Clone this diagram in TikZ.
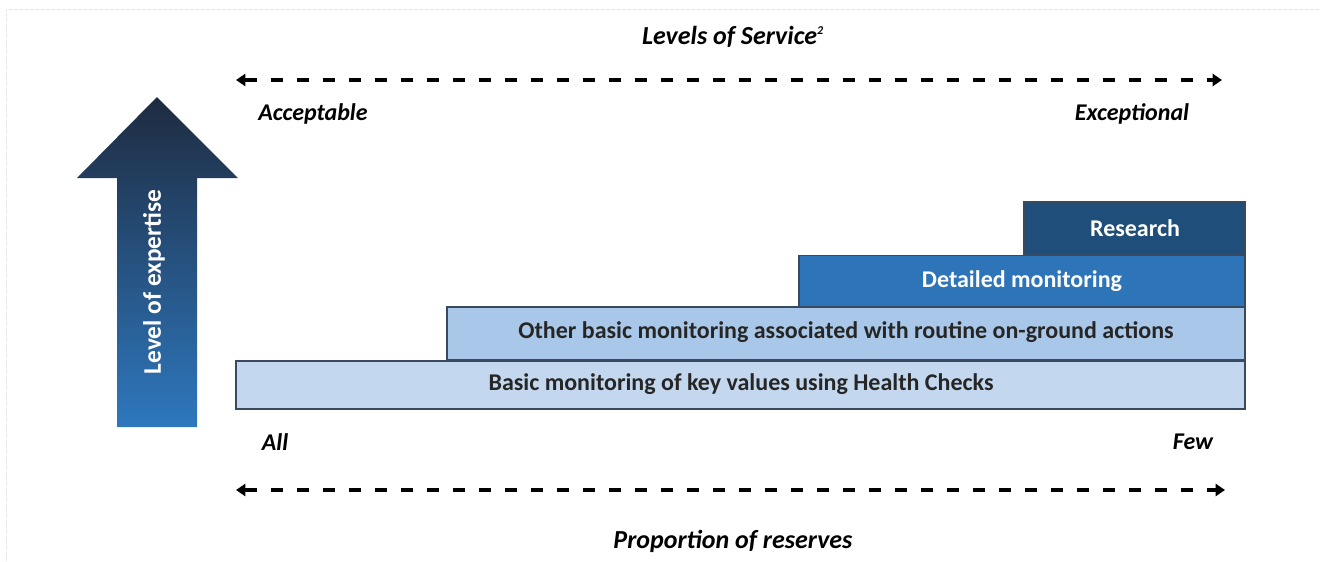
\documentclass[tikz,border=0pt]{standalone}
\usepackage{fontspec}
\setmainfont{Carlito}
\usetikzlibrary{arrows.meta,shapes.arrows}
\definecolor{lvlone}{HTML}{C3D7EE}
\definecolor{lvltwo}{HTML}{A9C7E8}
\definecolor{lvlthree}{HTML}{2E74B8}
\definecolor{lvlfour}{HTML}{1F4E7A}
\definecolor{boxline}{HTML}{3A4A5E}
\definecolor{arrtop}{HTML}{1E2B40}
\definecolor{arrbot}{HTML}{2E78BE}
\tikzset{
  every node/.style={font=\bfseries\itshape\fontsize{18}{20}\selectfont, inner sep=0pt},
  stairbox/.style={draw=boxline, line width=1pt},
  stairtext/.style={font=\bfseries\fontsize{18}{20}\selectfont},
  dasharrow/.style={dash pattern=on 9pt off 10.5pt, line width=2.3pt, {Triangle[length=7pt,width=9pt]}-{Triangle[length=7pt,width=9pt]}},
  axislabel/.style={font=\bfseries\itshape\fontsize{19.5}{22}\selectfont},
}
\begin{document}
\begin{tikzpicture}[x=0.75pt,y=-0.75pt]
\useasboundingbox (0,0) rectangle (1321,561);
\draw[gray!18, line width=0.6pt, dash pattern=on 3pt off 1pt] (6,561) -- (6,9) -- (1321,9);
% title
\node[axislabel] (los) at (733,37) {Levels of Service\textsuperscript{\fontsize{9}{10}\selectfont 2}};
\coordinate (tl) at (236,80);
\coordinate (tr) at (1222,80);
\draw[dasharrow] (tl) -- (tr);
\node (acc) at (313,114) {Acceptable};
\node (exc) at (1132,114) {Exceptional};
% big arrow
\shade[top color=arrtop, bottom color=arrbot]
  (117,427) -- (117,178) -- (77,178) -- (157,97) -- (238,178) -- (197,178) -- (197,427) -- cycle;
\node[rotate=90, text=white, font=\bfseries\fontsize{19}{21}\selectfont] (exp) at (154,282) {Level of expertise};
% stairs
\node[stairbox, fill=lvlone, minimum width=1009*0.75pt, minimum height=48*0.75pt] (b1) at (740.5,385) {};
\node[stairtext, text=black!85] (t1) at (741,384) {Basic monitoring of key values using Health Checks};
\node[stairbox, fill=lvltwo, minimum width=798*0.75pt, minimum height=53*0.75pt] (b2) at (846,333.5) {};
\node[stairtext, text=black!85] (t2) at (846,332) {Other basic monitoring associated with routine on-ground actions};
\node[stairbox, fill=lvlthree, minimum width=446*0.75pt, minimum height=51*0.75pt] (b3) at (1022,281) {};
\node[stairtext, text=white] (t3) at (1022,281) {Detailed monitoring};
\node[stairbox, fill=lvlfour, minimum width=221*0.75pt, minimum height=53*0.75pt] (b4) at (1134.5,228.5) {};
\node[stairtext, text=white] (t4) at (1135,228) {Research};
% bottom axis
\node (all) at (275,442) {All};
\node (few) at (1193,442) {Few};
\coordinate (bl) at (236,490);
\coordinate (br) at (1225,490);
\draw[dasharrow] (bl) -- (br);
\node[axislabel] (prop) at (733,541) {Proportion of reserves};
\end{tikzpicture}
\end{document}
